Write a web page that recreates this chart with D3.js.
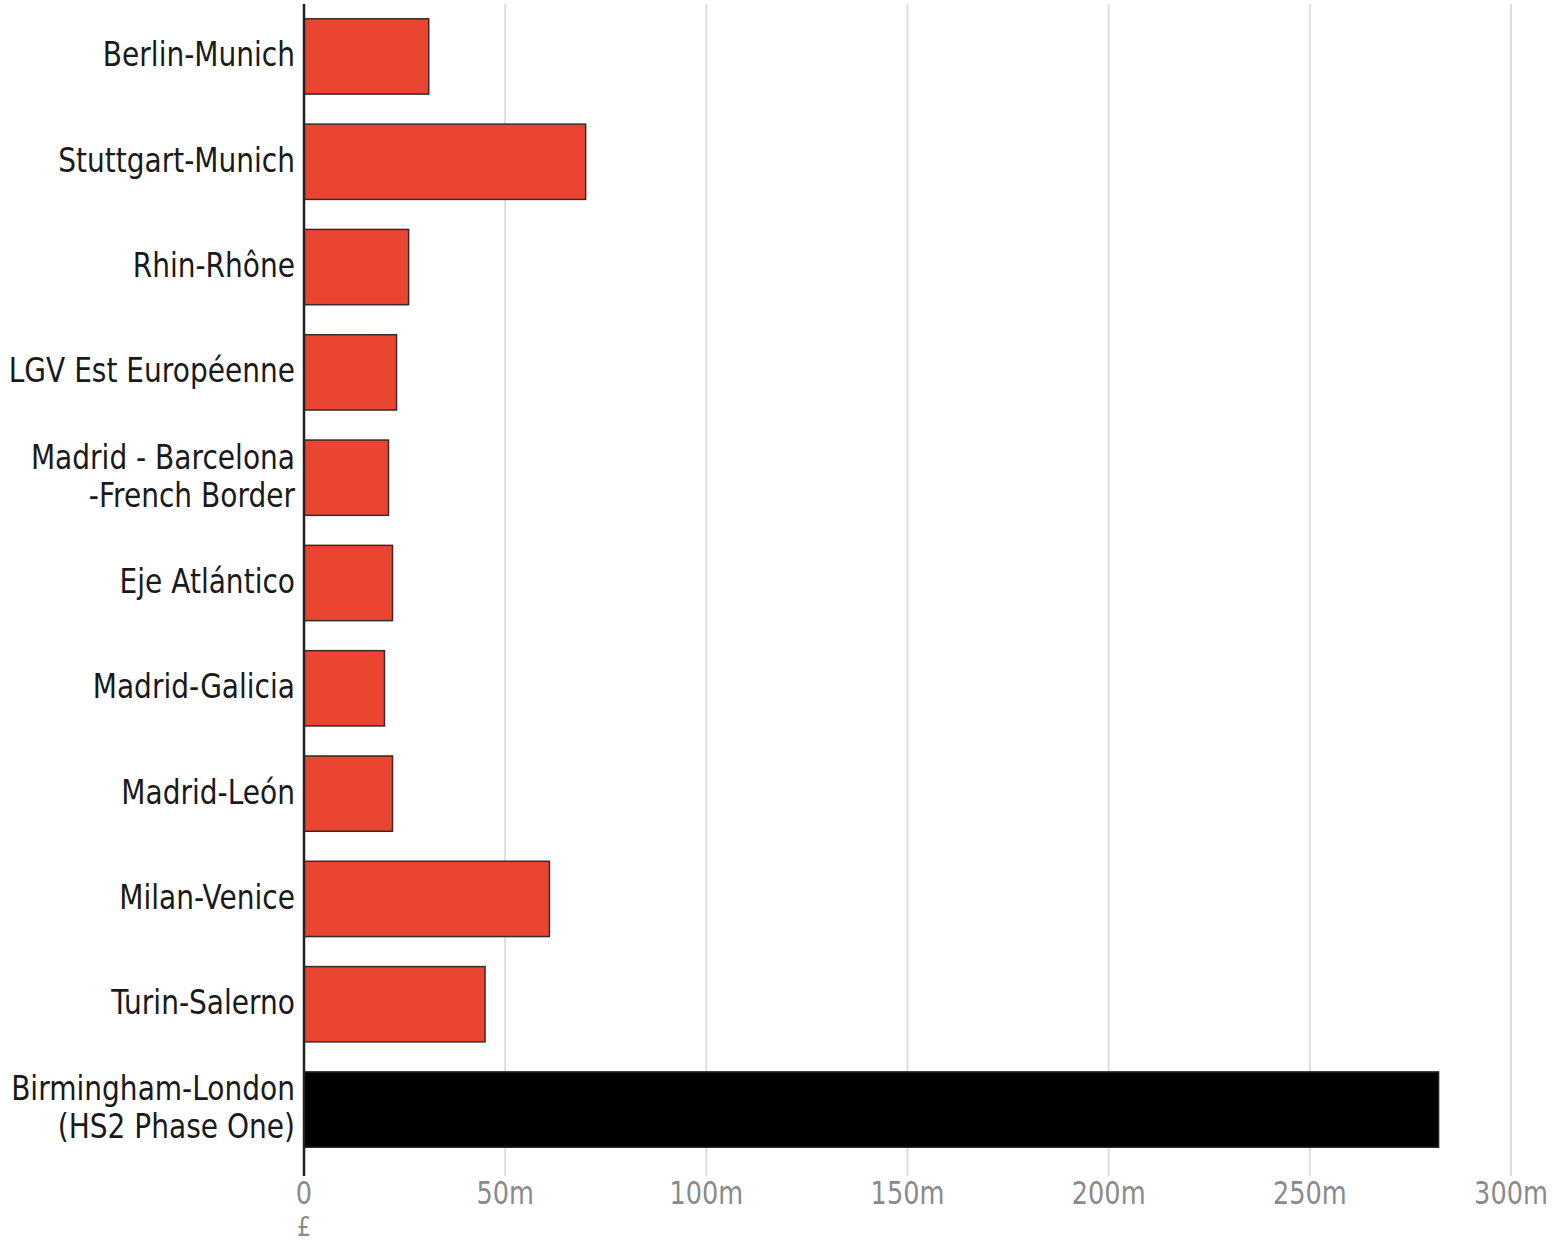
<!DOCTYPE html>
<html>
<head>
<meta charset="utf-8">
<script src="https://cdn.jsdelivr.net/npm/d3@7"></script>
<style>
  html, body { margin: 0; padding: 0; background: #fff; }
  svg { display: block; }
  .lbl { font-family: "DejaVu Sans", sans-serif; }
</style>
</head>
<body>
<svg id="chart" width="1555" height="1243"></svg>
<script>
// Cost per km of high-speed lines, £ million
const routes = [
  "Berlin-Munich",
  "Stuttgart-Munich",
  "Rhin-Rhône",
  "LGV Est Européenne",
  "Madrid - Barcelona\n-French Border",
  "Eje Atlántico",
  "Madrid-Galicia",
  "Madrid-León",
  "Milan-Venice",
  "Turin-Salerno",
  "Birmingham-London\n(HS2 Phase One)"
];
const costs = [31, 70, 26, 23, 21, 22, 20, 22, 61, 45, 282];
const highlight = [false, false, false, false, false, false, false, false, false, false, true];
const xTicks = [0, 50, 100, 150, 200, 250, 300];
const xTickLabels = ["0", "50m", "100m", "150m", "200m", "250m", "300m"];
const currencyLabel = "£";

const svg = d3.select("#chart");
const plotLeft = 304, plotRight = 1511;
const plotTop = 4, axisBottom = 1176;

const x = d3.scaleLinear().domain([0, 300]).range([plotLeft, plotRight]);
const y = d3.scaleBand().domain(routes).range([3, 1163]).paddingInner(0.285).paddingOuter(0.15);

// vertical gridlines
svg.append("g").selectAll("line").data(xTicks.slice(1)).join("line")
  .attr("x1", d => x(d)).attr("x2", d => x(d))
  .attr("y1", plotTop).attr("y2", axisBottom)
  .attr("stroke", "#dedede").attr("stroke-width", 2);

// bars
svg.append("g").selectAll("rect").data(routes).join("rect")
  .attr("x", x(0))
  .attr("y", d => y(d))
  .attr("width", (d, i) => x(costs[i]) - x(0))
  .attr("height", y.bandwidth())
  .attr("fill", (d, i) => highlight[i] ? "#000" : "#EA4530")
  .attr("stroke", (d, i) => highlight[i] ? "#222" : "#3a2a28")
  .attr("stroke-width", 1.5);

// y axis line
svg.append("line")
  .attr("x1", plotLeft).attr("x2", plotLeft)
  .attr("y1", plotTop).attr("y2", axisBottom)
  .attr("stroke", "#222").attr("stroke-width", 2.5);

// category labels (condensed by a horizontal scale)
const lineH = 38;
const labels = svg.append("g").selectAll("text").data(routes).join("text")
  .attr("class", "lbl")
  .attr("text-anchor", "end")
  .attr("fill", "#1a1a1a")
  .attr("font-size", 33)
  .attr("transform", d => {
    const cy = y(d) + y.bandwidth() / 2 - 2;
    return `translate(295,${cy}) scale(0.85,1)`;
  });
labels.each(function(d) {
  const parts = d.split("\n");
  const t = d3.select(this);
  const offset = -(parts.length - 1) * lineH / 2;
  parts.forEach((p, k) => {
    t.append("tspan").attr("x", 0).attr("y", offset + k * lineH).attr("dy", "0.36em").text(p);
  });
});

// x tick labels
svg.append("g").selectAll("text").data(xTicks).join("text")
  .attr("class", "lbl")
  .attr("text-anchor", "middle")
  .attr("fill", "#8a8a8a")
  .attr("font-size", 32)
  .attr("transform", d => `translate(${x(d)},1204) scale(0.8,1)`)
  .text((d, i) => xTickLabels[i]);

// currency unit under the zero tick
svg.append("text")
  .attr("class", "lbl")
  .attr("text-anchor", "middle")
  .attr("fill", "#8a8a8a")
  .attr("font-size", 26)
  .attr("transform", `translate(${x(0)},1236) scale(0.85,1)`)
  .text(currencyLabel);
</script>
</body>
</html>
